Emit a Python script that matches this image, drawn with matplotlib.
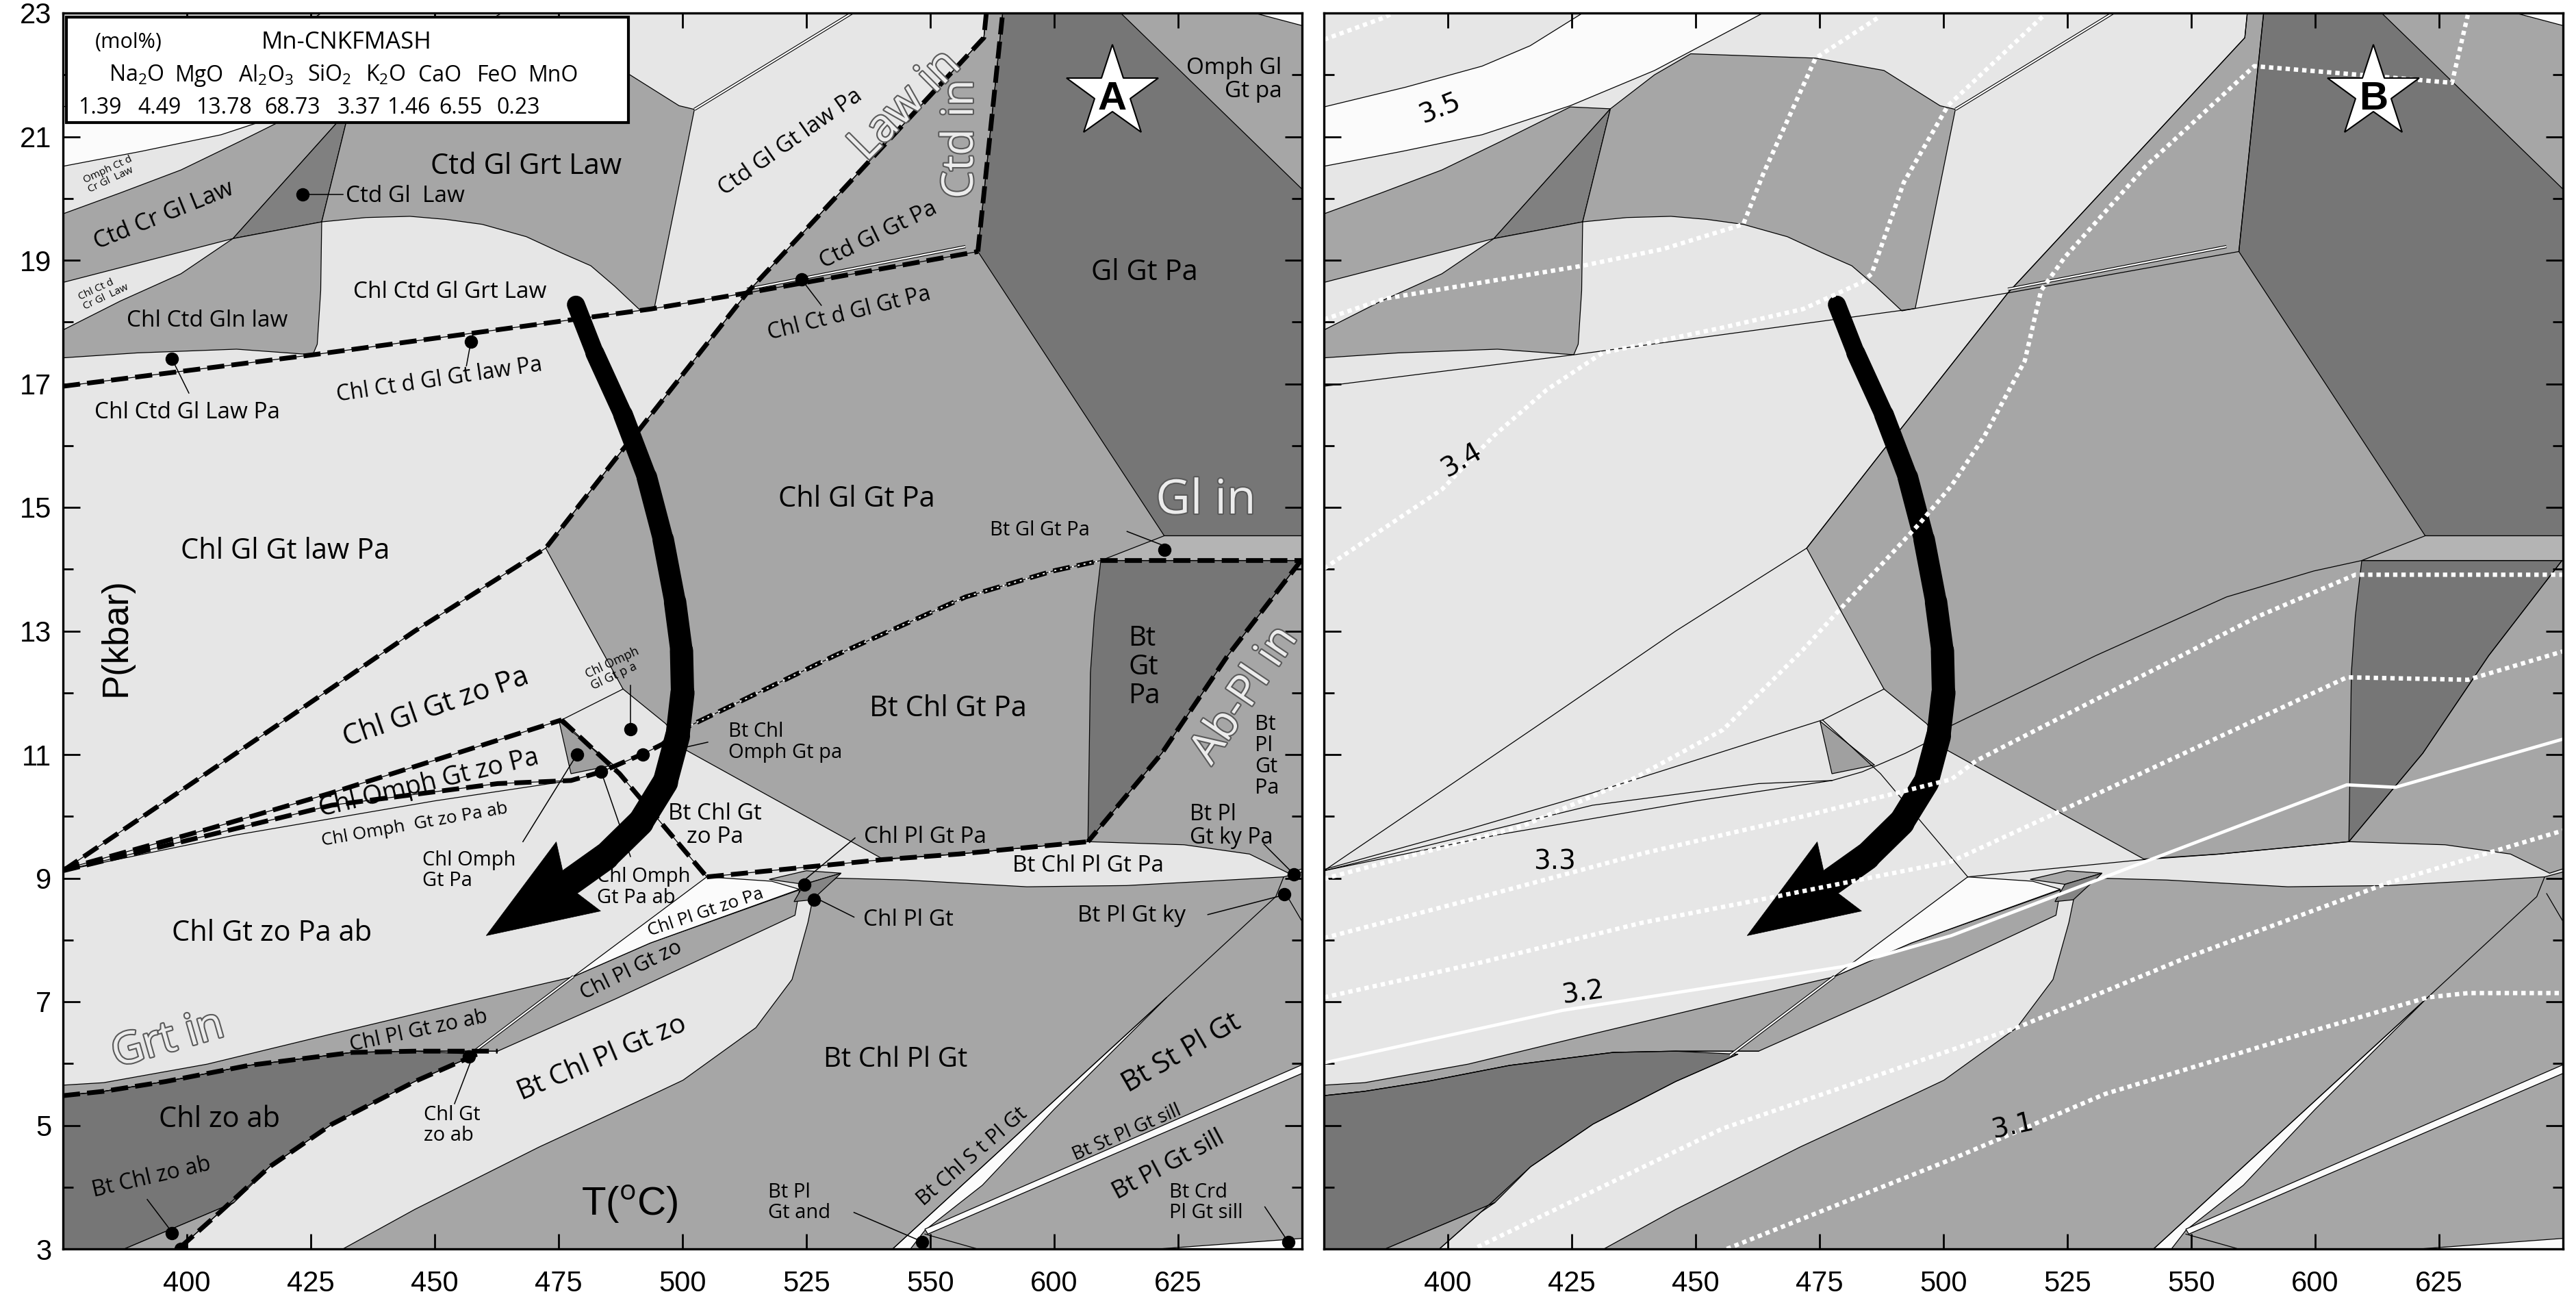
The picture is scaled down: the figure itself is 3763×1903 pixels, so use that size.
import matplotlib
matplotlib.use('Agg')
import matplotlib.pyplot as plt
from matplotlib.patches import Polygon, Rectangle
from matplotlib.transforms import IdentityTransform
import matplotlib.patheffects as pe
import numpy as np

plt.rcParams['font.family'] = ['Open Sans', 'DejaVu Sans']
plt.rcParams['mathtext.fontset'] = 'custom'
plt.rcParams['mathtext.rm'] = 'Open Sans'
plt.rcParams['mathtext.it'] = 'Open Sans'
plt.rcParams['mathtext.bf'] = 'Open Sans:bold'

# ---------------- axes data ----------------
T_RANGE = (375, 625)
P_RANGE = (3, 23)
xtick_pos = [400, 425, 450, 475, 500, 525, 550, 575, 600]
xtick_labels = ['400', '425', '450', '475', '500', '525', '550', '600', '625']
ytick_major = [3, 5, 7, 9, 11, 13, 15, 17, 19, 21, 23]
ytick_minor = [4, 6, 8, 10, 12, 14, 16, 18, 20, 22]

LIGHT, MID, DARK, WHITE = '#e6e6e6', '#a6a6a6', '#767676', '#fbfbfb'

# ---------------- field polygons (T, P) ----------------
white_band = [(375, 21.48), (391.5, 21.8), (406.9, 22.14), (416.6, 22.47), (427.2, 23.0),
              (463.6, 23.0), (441.7, 22.07), (424.7, 21.5), (406.9, 21.03), (390.7, 20.76), (375, 20.52)]
ctd_cr_gl_law = [(375, 19.75), (386.6, 20.09), (398.8, 20.46), (410.9, 20.93), (424.7, 21.48),
                 (432.8, 21.45), (409.3, 19.35), (375, 18.64)]
ctd_gl_law = [(432.8, 21.45), (409.3, 19.35), (427.2, 19.62)]
chl_ctd_gln_law = [(375, 17.87), (386.6, 18.34), (398.8, 18.78), (409.3, 19.35), (427.2, 19.62),
                   (427, 18.51), (426.3, 17.64), (425.4, 17.47), (410, 17.56), (390, 17.5), (375, 17.42)]
ctd_gl_grt_law = [(432.8, 21.45), (441.7, 22.0), (449.0, 22.34), (474.2, 22.27), (488, 22.07),
                  (499.3, 21.5), (502.4, 21.44), (494.3, 18.22), (491.6, 18.18), (486.3, 18.58),
                  (481.5, 18.91), (475.8, 19.11), (468.5, 19.38), (459.6, 19.58), (452.3, 19.66),
                  (445, 19.71), (436.1, 19.69), (427.2, 19.62)]
chl_gl_gt_pa = [(472.4, 14.34), (487.8, 15.92), (491, 16.23), (513, 18.47), (560.8, 22.6), (561.3, 23.0),
                (625, 23.0), (625, 9.15), (622.3, 9.08), (614.4, 9.39), (601.2, 9.54), (581.8, 9.59),
                (555.7, 9.39), (540.4, 9.31), (500.3, 11.09), (496.6, 11.50), (488, 12.06), (479.9, 13.24)]
gl_gt_pa = [(564.6, 23.0), (588.4, 23.0), (625, 20.15), (625, 14.54), (597.2, 14.54), (559.6, 19.14)]
bt_gl_gt_band = [(584.4, 14.14), (597.2, 14.54), (625, 14.54), (625, 14.14)]
bt_gt_pa = [(584.4, 14.14), (624.8, 14.14), (610, 12.6), (596.7, 11.02), (581.8, 9.59),
            (582.3, 12.32), (583.1, 13.24)]
omph_sliver = [(615.6, 23.0), (625, 23.0), (625, 22.8)]
bt_chl_pl_gt = [(431.5, 3.0), (446, 3.64), (471.1, 4.65), (493.5, 5.48), (500.1, 5.73), (514.8, 6.58),
                (522.1, 7.36), (525.3, 8.28), (526.5, 8.75), (531, 9.0), (545, 8.97), (569.5, 8.86),
                (589.6, 8.88), (605.8, 8.95), (621.3, 9.02), (625, 9.1), (625, 3.0)]
chl_pl_gt_zo = [(375, 5.65), (383.2, 5.69), (404.1, 5.99), (429.3, 6.48), (456.9, 7.01), (477.8, 7.40),
                (493.5, 7.95), (523.6, 8.81), (522.7, 8.4), (504, 7.7), (486.6, 7.05), (462.7, 6.2),
                (446, 6.2), (433.4, 6.18), (412.5, 5.97), (395.8, 5.71), (383.2, 5.55), (375, 5.48)]
chl_zo_ab = [(375, 5.48), (383.2, 5.55), (395.8, 5.71), (412.5, 5.97), (433.4, 6.18), (446, 6.2),
             (458.5, 6.15), (446, 5.71), (429.3, 5.02), (416.7, 4.33), (409.5, 3.75), (387.4, 3.0), (375, 3.0)]
bt_chl_zo_ab = [(387.4, 3.0), (409.5, 3.75), (406.6, 3.59), (398.3, 3.0)]
chl_pl_gt_zo_pa = [(478, 7.41), (504.9, 9.02), (518, 8.95), (523.6, 8.82), (493.5, 7.95), (477.8, 7.40)]
chl_omph_gt_pa = [(475.1, 11.54), (477.5, 10.69), (486.1, 10.83)]
small_quad1 = [(517.5, 8.98), (525, 9.12), (532, 9.08), (524.5, 8.9)]
chl_pl_gt = [(522.5, 8.62), (524.5, 8.9), (532, 9.08), (526.2, 8.65)]
bt_chl_st_pl_gt = [(542.4, 3.0), (597.7, 7.07), (575, 5.26), (560.5, 4.03), (548.9, 3.3), (546, 3.0)]
bt_st_pl_gt_sill = [(548.9, 3.32), (625, 5.98), (625, 5.84), (549.5, 3.24)]
bt_crd_pl_gt_sill = [(596.1, 3.0), (625, 3.17), (625, 3.0)]

fields = [
    (white_band, WHITE), (ctd_cr_gl_law, MID), (ctd_gl_law, '#808080'), (chl_ctd_gln_law, MID),
    (ctd_gl_grt_law, MID), (chl_gl_gt_pa, MID), (gl_gt_pa, DARK), (bt_gl_gt_band, '#b4b4b4'),
    (bt_gt_pa, DARK), (omph_sliver, WHITE), (bt_chl_pl_gt, MID), (chl_pl_gt_zo, MID),
    (chl_zo_ab, DARK), (bt_chl_zo_ab, MID), (chl_pl_gt_zo_pa, WHITE), (chl_omph_gt_pa, '#a0a0a0'),
    (small_quad1, '#a8a8a8'), (chl_pl_gt, '#858585'), (bt_chl_st_pl_gt, WHITE),
    (bt_st_pl_gt_sill, WHITE), (bt_crd_pl_gt_sill, WHITE),
]

# ---------------- boundary lines (dashed in A) ----------------
ctd_gl_out = [(375, 16.96), (425.5, 17.47), (493.6, 18.21), (513, 18.47), (559.6, 19.14)]
ctd_in = [(559.6, 19.14), (564.6, 23.0)]
law_in = [(561.3, 23.0), (560.8, 22.6), (513, 18.47), (491, 16.23), (487.8, 15.92), (472.4, 14.34),
          (446.0, 13.0), (420.9, 11.62), (400, 10.48), (375, 9.12)]
omph_upper = [(375, 9.14), (404.1, 9.79), (429.2, 10.38), (454.4, 11.02), (475.6, 11.56)]
omph_lower = [(375, 9.12), (429.2, 10.18), (462.7, 10.53), (477.5, 10.58), (483.6, 10.72), (492.3, 11.02),
              (496, 11.17), (498.5, 11.35)]
gl_in = [(498.5, 11.35), (530.7, 12.6), (557.1, 13.55), (574.7, 13.97), (584.4, 14.14), (625, 14.14)]
ab_pl_in = [(624.8, 14.14), (610, 12.6), (596.7, 11.02), (581.8, 9.59)]
pl_in = [(504.9, 9.02), (540.4, 9.3), (555.7, 9.39), (581.8, 9.59)]
omph_out = [(475.6, 11.56), (487.3, 10.69), (504.9, 9.02)]
grt_in = [(375, 5.48), (383.2, 5.55), (395.8, 5.71), (412.5, 5.97), (433.4, 6.18), (446, 6.2), (462.7, 6.2)]
grt_in_b = [(458.5, 6.15), (446, 5.71), (429.3, 5.02), (416.7, 4.33), (406.6, 3.59), (398.3, 3.0)]
dashed_lines = [ctd_gl_out, ctd_in, law_in, omph_upper, omph_lower, gl_in, ab_pl_in, pl_in,
                omph_out, grt_in, grt_in_b]

extra_lines = [
    [(475.6, 11.56), (488, 12.06)],
    [(375, 9.12), (410, 9.7), (450, 10.25), (477.5, 10.58)],
    [(621.3, 9.02), (619.7, 8.70), (597.7, 7.07), (542.4, 3.0)],
    [(621.7, 8.75), (625, 8.3)],
    [(548.9, 3.24), (559.5, 3.0)],
]
double_lines = [
    [(502.4, 21.44), (534.2, 23.0)],
    [(513, 18.53), (557.1, 19.22)],
    [(456.9, 6.13), (478, 7.41)],
]

# ---------------- P-T path ----------------
path_T = [478.5, 482.3, 488.0, 492.8, 496.1, 498.5, 499.8, 500.0, 499.0, 496.5, 491.5, 484.5, 477.5]
path_P = [18.28, 17.50, 16.50, 15.49, 14.48, 13.47, 12.68, 12.0, 11.3, 10.55, 9.9, 9.35, 8.95]
path_tip = (460.4, 8.07)

# ---------------- isopleths (panel B) ----------------
iso_a = [(375, 22.57), (386.6, 22.91), (389, 23.0)]
iso_c = [(375, 18.04), (387.4, 18.38), (406.9, 18.64), (427.2, 18.91), (443.4, 19.18), (459.6, 19.58),
         (463.6, 20.39), (469.3, 21.40), (474.2, 22.27), (487.1, 22.94)]
iso_d = [(375, 14.01), (398.8, 15.29), (409.3, 16.16), (419.9, 16.9), (431.2, 17.5), (455.5, 17.91),
         (471.7, 18.21), (483.5, 18.64), (485.5, 18.78), (492, 20.26), (500.9, 21.5), (520.5, 22.98)]
iso_e = [(375, 8.99), (415, 9.84), (437.7, 10.62), (455.5, 11.4), (471.7, 12.7), (479, 13.34),
         (495.3, 14.75), (501.6, 15.35), (508.3, 16.16), (516.4, 17.37), (519.7, 18.51), (524.5, 19.05),
         (540.8, 20.52), (562.7, 22.14), (583.9, 22.0), (602.6, 21.87), (605.8, 22.97)]
iso_f = [(375, 8.03), (406.9, 8.7), (439.3, 9.4), (471.7, 10.0), (501.6, 10.6), (506.6, 10.9),
         (563.6, 13.24), (583.1, 13.91), (625, 13.91)]
iso_g = [(375, 7.07), (406.9, 7.64), (439.3, 8.28), (466.1, 8.7), (501.6, 9.27), (524.5, 10.12),
         (581.4, 12.25), (605.8, 12.21), (625, 12.67)]
iso_h = [(375, 6.01), (423.1, 6.86), (479.9, 7.57), (501.6, 8.07), (540.8, 9.27), (581.4, 10.51),
         (591.2, 10.47), (625, 11.25)]
iso_i = [(406, 3.03), (455.5, 4.95), (501.6, 6.22), (514.8, 6.58), (548.9, 7.71), (589.6, 8.92), (625, 9.77)]
iso_j = [(456.3, 3.0), (501.6, 4.45), (532.7, 5.51), (573.3, 6.5), (597.7, 7.07), (605.8, 7.14), (625, 7.14)]
dotted_isopleths = [iso_a, iso_c, iso_d, iso_e, iso_f, iso_g, iso_i, iso_j]
solid_isopleths = [iso_h]
iso_labels = [('3.5', 398.4, 21.45, 22), ('3.4', 402.8, 15.76, 30), ('3.3', 421.5, 9.27, 0),
              ('3.2', 427.2, 7.14, 8), ('3.1', 514.0, 4.98, 12)]

# ---------------- panel A annotations ----------------
dots_T = [423.4, 397.0, 457.3, 524.0, 597.2, 489.5, 478.7, 483.6, 492.0, 524.6, 526.5, 456.9, 397.0,
          398.7, 548.3, 622.3, 621.4, 623.4]
dots_P = [20.06, 17.40, 17.68, 18.69, 14.31, 11.41, 11.0, 10.72, 11.0, 8.89, 8.65, 6.11, 3.25,
          3.0, 3.11, 3.11, 8.74, 9.06]
leaders = [
    [(423.4, 20.06), (431.5, 20.06)], [(397, 17.40), (400.4, 16.85)], [(457.3, 17.68), (456.4, 17.29)],
    [(524, 18.69), (528, 18.27)], [(589.7, 14.61), (596.8, 14.39)], [(489.5, 11.41), (489.5, 12.12)],
    [(478.7, 11.0), (467.8, 9.59)], [(483.6, 10.72), (489.5, 9.35)], [(500.7, 11.12), (505.1, 11.2)],
    [(534.8, 9.65), (523.7, 8.91)], [(527.1, 8.67), (534.6, 8.37)], [(620.5, 8.71), (606, 8.41)],
    [(457.3, 6.04), (454, 5.35)], [(397, 3.27), (392, 3.8)], [(547.4, 3.15), (534.6, 3.59)],
    [(621.9, 3.15), (617.5, 3.68)], [(617.3, 9.55), (623.4, 9.06)],
]
# (text, T, P, size, rotation, multialignment)
labels_A = [
    ('Ctd Gl Grt Law', 468.4, 20.52, 30, 0, 'center'),
    ('Gl Gt Pa', 593.2, 18.8, 30, 0, 'center'),
    ('Chl Gl Gt Pa', 535.1, 15.13, 30, 0, 'center'),
    ('Chl Gl Gt law Pa', 419.9, 14.29, 30, 0, 'center'),
    ('Bt Chl Gt Pa', 553.6, 11.74, 30, 0, 'center'),
    ('Chl Gt zo Pa ab', 417.1, 8.11, 30, 0, 'center'),
    ('Chl zo ab', 406.6, 5.09, 30, 0, 'center'),
    ('Bt Chl Pl Gt', 543.0, 6.06, 29, 0, 'center'),
    ('Chl Gl Gt zo Pa', 450.2, 11.76, 30, 19, 'center'),
    ('Chl Omph Gt zo Pa', 448.9, 10.53, 27, 13.5, 'center'),
    ('Bt Chl Pl Gt zo', 483.8, 6.08, 29, 23, 'center'),
    ('Bt St Pl Gt', 600.7, 6.17, 30, 30, 'center'),
    ('Bt\nGt\nPa', 593.2, 12.41, 29, 0, 'left'),
    ('Ctd Cr Gl Law', 395.4, 19.72, 25, 22, 'center'),
    ('Ctd Gl  Law', 444.1, 20.04, 24, 0, 'center'),
    ('Chl Ctd Gln law', 404.1, 18.02, 24, 0, 'center'),
    ('Chl Ctd Gl Grt Law', 453.1, 18.48, 24, 0, 'center'),
    ('Chl Ct d Gl Gt law Pa', 451.0, 17.06, 23, 8.5, 'center'),
    ('Chl Ctd Gl Law Pa', 400.1, 16.53, 24, 0, 'center'),
    ('Ctd Gl Gt law Pa', 521.8, 20.91, 24, 35, 'center'),
    ('Ctd Gl Gt Pa', 539.5, 19.4, 24, 26, 'center'),
    ('Chl Ct d Gl Gt Pa', 533.7, 18.13, 23, 14, 'center'),
    ('Omph Gl\nGt pa', 611.3, 21.92, 24, 0, 'right'),
    ('Bt Gl Gt Pa', 572.1, 14.63, 21, 0, 'center'),
    ('Bt Chl\nOmph Gt pa', 520.8, 11.2, 21, 0, 'left'),
    ('Bt Chl Gt\nzo Pa', 506.5, 9.85, 24, 0, 'center'),
    ('Chl Pl Gt Pa', 548.9, 9.66, 24, 0, 'center'),
    ('Bt Chl Pl Gt Pa', 581.8, 9.2, 24, 0, 'center'),
    ('Bt\nPl\nGt\nPa', 617.9, 10.97, 22, 0, 'left'),
    ('Bt Pl\nGt ky Pa', 610.8, 9.84, 23, 0, 'left'),
    ('Chl Pl Gt', 545.6, 8.32, 24, 0, 'center'),
    ('Bt Pl Gt ky', 590.6, 8.39, 24, 0, 'center'),
    ('Chl Pl Gt zo ab', 446.8, 6.52, 22, 12, 'center'),
    ('Chl Pl Gt zo', 489.6, 7.5, 22, 26, 'center'),
    ('Chl Pl Gt zo Pa', 504.7, 8.44, 19, 18.5, 'center'),
    ('Bt Chl zo ab', 392.8, 4.15, 23, 13, 'center'),
    ('Chl Gt\nzo ab', 453.5, 5.0, 21, 0, 'left'),
    ('Chl Omph\nGt Pa', 456.9, 9.12, 21, 0, 'left'),
    ('Chl Omph\nGt Pa ab', 492.1, 8.85, 21, 0, 'left'),
    ('Chl Omph  Gt zo Pa ab', 446.0, 9.86, 19, 10, 'center'),
    ('Chl Omph\nGl Gt p a', 486.4, 12.39, 13, 25, 'left'),
    ('Bt Chl S t Pl Gt', 558.4, 4.49, 22, 41, 'center'),
    ('Bt St Pl Gt sill', 589.7, 4.88, 20, 23.5, 'center'),
    ('Bt Pl Gt sill', 598.1, 4.35, 26, 28, 'center'),
    ('Bt Crd\nPl Gt sill', 605.6, 3.75, 21, 0, 'left'),
    ('Bt Pl\nGt and', 523.6, 3.75, 21, 0, 'left'),
    ('Omph Ct d\nCr Gl  Law', 384.5, 20.39, 11, 25, 'left'),
    ('Chl Ct d\nCr Gl  Law', 383.2, 18.48, 11, 25, 'left'),
]
outline_labels = [
    ('Law in', 545.0, 21.5, 48, 45), ('Ctd in', 556.2, 20.96, 46, 90), ('Gl in', 605.6, 15.1, 50, 0),
    ('Ab-Pl in', 613.5, 11.96, 46, 56), ('Grt in', 396.2, 6.38, 46, 16),
]
oxide_names = ['Na$_2$O', 'MgO', 'Al$_2$O$_3$', 'SiO$_2$', 'K$_2$O', 'CaO', 'FeO', 'MnO']
oxide_T = [389.9, 402.5, 415.9, 428.8, 440.1, 451.0, 462.7, 474.0]
oxide_values = ['1.39', '4.49', '13.78', '68.73', '3.37', '1.46', '6.55', '0.23']
value_T = [382.4, 394.5, 407.5, 421.3, 434.7, 444.7, 455.2, 466.9]
legend_box = (375.7, 21.23, 489.1, 22.93)
star_pos = (586.7, 21.7)


def pts(seq):
    a = np.array(seq, dtype=float)
    return a[:, 0], a[:, 1]


def style_axes(ax, ylabels=True):
    ax.set_xlim(*T_RANGE)
    ax.set_ylim(*P_RANGE)
    ax.set_facecolor(LIGHT)
    ax.set_xticks(xtick_pos)
    ax.set_xticklabels(xtick_labels, fontsize=30, fontfamily='Liberation Sans')
    ax.set_yticks(ytick_major)
    ax.set_yticks(ytick_minor, minor=True)
    if ylabels:
        ax.set_yticklabels([str(v) for v in ytick_major], fontsize=30, fontfamily='Liberation Sans')
    else:
        ax.set_yticklabels([])
    ax.tick_params(axis='both', which='both', direction='in', top=True, right=True, width=2, color='k')
    ax.tick_params(axis='x', which='major', length=16, pad=22)
    ax.tick_params(axis='y', which='major', length=18, pad=12)
    ax.tick_params(axis='y', which='minor', length=11)
    for s in ax.spines.values():
        s.set_linewidth(2.4)
        s.set_zorder(20)


def draw_base(ax):
    for poly, col in fields:
        ax.add_patch(Polygon(np.array(poly), closed=True, facecolor=col, edgecolor='k',
                             linewidth=0.9, zorder=1))
    for ln in dashed_lines + extra_lines:
        x, y = pts(ln)
        ax.plot(x, y, color='k', lw=0.9, zorder=2)
    for ln in double_lines:
        x, y = pts(ln)
        ax.plot(x, y, color='k', lw=3.2, zorder=2.2, solid_capstyle='butt')
        ax.plot(x, y, color='white', lw=1.6, zorder=2.3, solid_capstyle='butt')


def draw_path(ax):
    n = len(path_T)
    widths = np.linspace(19, 29, n - 1)
    for i in range(n - 1):
        ax.plot(path_T[i:i + 2], path_P[i:i + 2], color='k', lw=widths[i],
                solid_capstyle='round', zorder=6)
    # swept-back arrow head, built in display space from the path end and the tip
    tip = ax.transData.transform(path_tip)
    base = ax.transData.transform((path_T[-1], path_P[-1]))
    u = base - tip
    u = u / np.hypot(*u)
    nrm = np.array([-u[1], u[0]])
    L, W, notch = 160, 60, 138
    head = np.array([tip, tip + u * L + nrm * W, tip + u * notch, tip + u * L - nrm * W])
    ax.add_patch(Polygon(head, closed=True, transform=IdentityTransform(), facecolor='k',
                         edgecolor='k', lw=0.5, zorder=6))


def draw_star(ax, letter):
    ax.plot([star_pos[0]], [star_pos[1]], marker='*', ms=102, mfc='white', mec='k', mew=1.5, zorder=8)
    ax.text(star_pos[0], star_pos[1] - 0.1, letter, fontsize=42, fontweight='bold',
            fontfamily='Liberation Sans', ha='center', va='center', zorder=9)


fig = plt.figure(figsize=(37.63, 19.03), dpi=100)
fig.patch.set_facecolor('white')
axA = fig.add_axes([92 / 3763, 79 / 1903, 1810 / 3763, 1805 / 1903])
axB = fig.add_axes([1934 / 3763, 79 / 1903, 1810 / 3763, 1805 / 1903])

# ---------------- Panel A ----------------
style_axes(axA, True)
draw_base(axA)
for ln in dashed_lines:
    x, y = pts(ln)
    axA.plot(x, y, color='k', lw=5, dashes=(3.6, 1.5), zorder=4)
x, y = pts(gl_in[:5])
axA.plot(x, y, color='white', lw=1.4, linestyle=(0, (1.5, 3.0)), zorder=4.5)
draw_path(axA)
axA.plot(dots_T, dots_P, 'o', color='k', ms=13, zorder=7)
for ln in leaders:
    x, y = pts(ln)
    axA.plot(x, y, color='k', lw=1.1, zorder=7)
for s, T, P, size, rot, ma in labels_A:
    axA.text(T, P, s, fontsize=size, rotation=rot, ha='center', va='center', multialignment=ma,
             rotation_mode='anchor', linespacing=1.05, zorder=9)
for s, T, P, size, rot in outline_labels:
    axA.text(T, P, s, fontsize=size, rotation=rot, ha='center', va='center', rotation_mode='anchor',
             color='#ececec', zorder=9,
             path_effects=[pe.withStroke(linewidth=3.0, foreground='#5a5a5a')])
axA.text(385.7, 12.9, 'P(kbar)', fontsize=38, rotation=90, ha='center', va='center',
         fontfamily='Liberation Sans', zorder=9)
axA.text(489.4, 3.72, r'T($^{\mathrm{o}}$C)', fontsize=42, ha='center', va='center',
         fontfamily='Liberation Sans', zorder=9)
x0, y0, x1, y1 = legend_box
axA.add_patch(Rectangle((x0, y0), x1 - x0, y1 - y0, facecolor='white', edgecolor='k', lw=3, zorder=10))
axA.text(388.2, 22.52, '(mol%)', fontsize=22, ha='center', va='center', zorder=11)
axA.text(432.2, 22.52, 'Mn-CNKFMASH', fontsize=25, ha='center', va='center', zorder=11)
for s, T in zip(oxide_names, oxide_T):
    axA.text(T, 21.99, s, fontsize=23, ha='center', va='center', zorder=11)
for s, T in zip(oxide_values, value_T):
    axA.text(T, 21.46, s, fontsize=23, ha='center', va='center', zorder=11)
draw_star(axA, 'A')

# ---------------- Panel B ----------------
style_axes(axB, False)
draw_base(axB)
draw_path(axB)
for ln in dotted_isopleths:
    x, y = pts(ln)
    axB.plot(x, y, color='white', lw=4.6, linestyle=(0, (1.0, 0.9)), dash_capstyle='butt', zorder=7)
for ln in solid_isopleths:
    x, y = pts(ln)
    axB.plot(x, y, color='white', lw=3.4, zorder=7)
for s, T, P, rot in iso_labels:
    axB.text(T, P, s, fontsize=28, rotation=rot, ha='center', va='center', fontfamily='DejaVu Sans',
             rotation_mode='anchor', zorder=9)
draw_star(axB, 'B')

fig.savefig('out.png', dpi=100, facecolor='white')
